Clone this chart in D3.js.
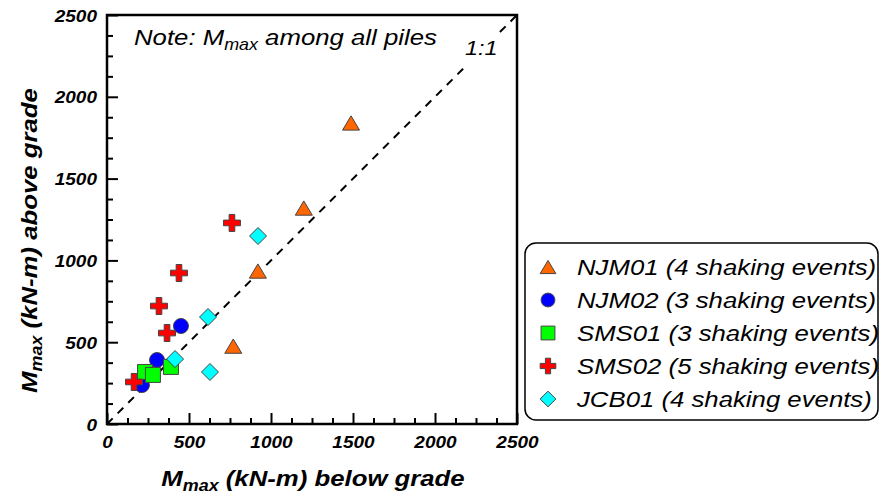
<!DOCTYPE html>
<html>
<head>
<meta charset="utf-8">
<script src="https://cdn.jsdelivr.net/npm/d3@7"></script>
<style>
  body { margin: 0; background: #fff; }
  svg { display: block; font-family: "Liberation Sans", Arial, sans-serif; }
</style>
</head>
<body>
<div id="wrapper"></div>
<script>
// ---------------------------------------------------
// 1. DATA
// ---------------------------------------------------
const seriesNames = ['NJM01 (4 shaking events)', 'NJM02 (3 shaking events)', 'SMS01 (3 shaking events)',
  'SMS02 (5 shaking events)', 'JCB01 (4 shaking events)']

const njm01Below = [1488, 1200, 920, 770]
const njm01Above = [1840, 1320, 935, 476]
const njm02Below = [451, 305, 213]
const njm02Above = [599, 391, 238]
const sms01Below = [232, 280, 390]
const sms01Above = [318, 300, 349]
const sms02Below = [762, 439, 317, 366, 165]
const sms02Above = [1229, 923, 721, 556, 257]
const jcb01Below = [921, 616, 415, 628]
const jcb01Above = [1149, 654, 397, 318]

const majorTicks = [0, 500, 1000, 1500, 2000, 2500]
const minorTicks = d3.range(0, 2501, 125).filter((d) => d % 500 !== 0)

// custom shapes, size = width squared
const triangleType = {
  draw(ctx, size) {
    const w = Math.sqrt(size)
    const h = w * 0.84
    ctx.moveTo(0, -h / 2)
    ctx.lineTo(w / 2, h / 2)
    ctx.lineTo(-w / 2, h / 2)
    ctx.closePath()
  },
}
const diamondType = {
  draw(ctx, size) {
    const w = Math.sqrt(size) / 2
    ctx.moveTo(0, -w)
    ctx.lineTo(w, 0)
    ctx.lineTo(0, w)
    ctx.lineTo(-w, 0)
    ctx.closePath()
  },
}

const series = [
  { name: seriesNames[0], xs: njm01Below, ys: njm01Above, type: triangleType, size: 17 * 17, fill: '#ff6600' },
  { name: seriesNames[1], xs: njm02Below, ys: njm02Above, type: d3.symbolCircle, size: Math.PI * 7.5 * 7.5, fill: '#0000ff' },
  { name: seriesNames[2], xs: sms01Below, ys: sms01Above, type: d3.symbolSquare, size: 15 * 15, fill: '#00ff00' },
  { name: seriesNames[3], xs: sms02Below, ys: sms02Above, type: d3.symbolCross, size: 160, fill: '#ff0000' },
  { name: seriesNames[4], xs: jcb01Below, ys: jcb01Above, type: diamondType, size: 17 * 17, fill: '#00ffff' },
]

// ---------------------------------------------------
// 2. DIMENSIONS
// ---------------------------------------------------
const dimensions = {
  width: 881,
  height: 503,
  margin: { top: 15, left: 107 },
  boundedWidth: 410,
  boundedHeight: 409,
}
const sx = 1.12 // the original font runs wider than Arial

// ---------------------------------------------------
// 3. CANVAS
// ---------------------------------------------------
const svg = d3.select('#wrapper').append('svg')
  .attr('width', dimensions.width)
  .attr('height', dimensions.height)

const bounds = svg.append('g')
  .attr('transform', `translate(${dimensions.margin.left},${dimensions.margin.top})`)

// ---------------------------------------------------
// 4. SCALES
// ---------------------------------------------------
const xScale = d3.scaleLinear().domain([0, 2500]).range([0, dimensions.boundedWidth])
const yScale = d3.scaleLinear().domain([0, 2500]).range([dimensions.boundedHeight, 0])

// ---------------------------------------------------
// 5. PERIPHERALS
// ---------------------------------------------------
bounds.append('clipPath').attr('id', 'clip')
  .append('rect').attr('width', dimensions.boundedWidth).attr('height', dimensions.boundedHeight)

// 1:1 line
bounds.append('line')
  .attr('clip-path', 'url(#clip)')
  .attr('x1', xScale(0)).attr('y1', yScale(0))
  .attr('x2', xScale(2500)).attr('y2', yScale(2500))
  .attr('stroke', '#000').attr('stroke-width', 2)
  .attr('stroke-dasharray', '8,7')

function styleAxis(g) {
  g.select('.domain').remove()
  g.selectAll('line').attr('stroke', '#000').attr('stroke-width', 2)
}

// minor ticks (inside)
bounds.append('g').call(d3.axisLeft(yScale).tickValues(minorTicks).tickSize(-6).tickFormat('')).call(styleAxis)
bounds.append('g').attr('transform', `translate(0,${dimensions.boundedHeight})`)
  .call(d3.axisBottom(xScale).tickValues(minorTicks).tickSize(-6).tickFormat('')).call(styleAxis)

// major ticks with labels
const yAxis = bounds.append('g')
  .call(d3.axisLeft(yScale).tickValues(majorTicks).tickSize(-11).tickFormat(d3.format('d')))
  .call(styleAxis)
yAxis.selectAll('text')
  .attr('x', null).attr('dy', null)
  .attr('transform', `translate(-10,6) scale(${sx},1)`)
  .attr('text-anchor', 'end')

const xAxis = bounds.append('g').attr('transform', `translate(0,${dimensions.boundedHeight})`)
  .call(d3.axisBottom(xScale).tickValues(majorTicks).tickSize(-11).tickFormat(d3.format('d')))
  .call(styleAxis)
xAxis.selectAll('text')
  .attr('y', null).attr('dy', null)
  .attr('transform', `translate(0,24) scale(${sx},1)`)
  .attr('text-anchor', 'middle')

bounds.selectAll('.tick text')
  .attr('fill', '#000')
  .attr('font-size', 17)
  .attr('font-weight', 'bold')
  .attr('font-style', 'italic')

// frame
bounds.append('rect')
  .attr('width', dimensions.boundedWidth).attr('height', dimensions.boundedHeight)
  .attr('fill', 'none').attr('stroke', '#000').attr('stroke-width', 2.5)

// text with an M_max subscript
function mmaxLabel(g, size, weight) {
  return g.append('text')
    .attr('font-size', size).attr('font-style', 'italic').attr('font-weight', weight)
    .attr('transform', `scale(${sx},1)`)
}

// note
const note = bounds.append('g').attr('transform', 'translate(27,30)')
const noteText = mmaxLabel(note, 23, 'normal').attr('text-anchor', 'start')
noteText.append('tspan').text('Note: M')
noteText.append('tspan').attr('font-size', 16).attr('dy', 5).text('max')
noteText.append('tspan').attr('dy', -5).text(' among all piles')

// 1:1 label sits on a white patch that hides the dashed line
const oneToOne = bounds.append('g').attr('transform', `translate(${xScale(2183)},${yScale(2255)})`)
const oneBg = oneToOne.append('rect').attr('fill', '#fff')
const oneText = oneToOne.append('text').attr('transform', `scale(${sx},1)`)
  .attr('font-size', 21).attr('font-style', 'italic').text('1:1')
const ob = oneText.node().getBBox()
oneBg.attr('x', ob.x * sx - 2).attr('y', ob.y - 3)
  .attr('width', ob.width * sx + 4).attr('height', ob.height + 9)

// axis titles
const xTitle = svg.append('g')
  .attr('transform', `translate(${dimensions.margin.left + dimensions.boundedWidth / 2 + 1},486)`)
const xTitleText = mmaxLabel(xTitle, 23, 'bold').attr('text-anchor', 'middle')
xTitleText.append('tspan').text('M')
xTitleText.append('tspan').attr('font-size', 16).attr('dy', 5).text('max')
xTitleText.append('tspan').attr('dy', -5).text(' (kN-m) below grade')

const yTitle = svg.append('g')
  .attr('transform', `translate(37,${dimensions.margin.top + dimensions.boundedHeight / 2 + 21}) rotate(-90)`)
const yTitleText = mmaxLabel(yTitle, 23, 'bold').attr('text-anchor', 'middle')
yTitleText.append('tspan').text('M')
yTitleText.append('tspan').attr('font-size', 16).attr('dy', 5).text('max')
yTitleText.append('tspan').attr('dy', -5).text(' (kN-m) above grade')

// ---------------------------------------------------
// 6. DATA
// ---------------------------------------------------
const symbolGen = (s) => d3.symbol().type(s.type).size(s.size)

series.forEach((s) => {
  bounds.append('g').selectAll('path')
    .data(s.xs.map((x, i) => [x, s.ys[i]]))
    .join('path')
    .attr('d', symbolGen(s))
    .attr('transform', (d) => `translate(${xScale(d[0])},${yScale(d[1])})`)
    .attr('fill', s.fill)
    .attr('stroke', '#444')
    .attr('stroke-width', 1)
})

// ---------------------------------------------------
// 7. LEGEND
// ---------------------------------------------------
const legend = svg.append('g').attr('transform', 'translate(525,243)')
legend.append('rect')
  .attr('width', 353).attr('height', 177).attr('rx', 11)
  .attr('fill', '#fff').attr('stroke', '#000').attr('stroke-width', 1.5)

const rows = legend.selectAll('g.row').data(series).join('g')
  .attr('class', 'row')
  .attr('transform', (d, i) => `translate(0,${24 + i * 33})`)
rows.append('path')
  .attr('d', (d) => d3.symbol().type(d.type).size(d.size * 0.85)())
  .attr('transform', 'translate(23,0)')
  .attr('fill', (d) => d.fill).attr('stroke', '#444').attr('stroke-width', 1)
rows.append('g').attr('transform', 'translate(52,8)')
  .append('text')
  .attr('transform', `scale(${sx},1)`)
  .attr('font-size', 23).attr('font-style', 'italic')
  .text((d) => d.name)
</script>
</body>
</html>
